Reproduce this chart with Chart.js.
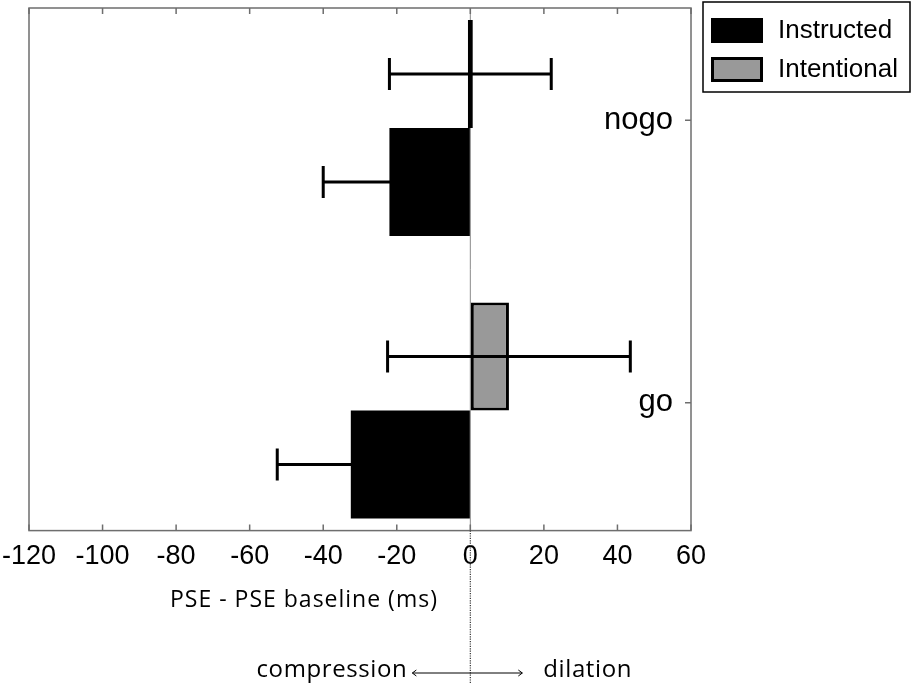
<!DOCTYPE html>
<html>
<head>
  <meta charset="UTF-8">
  <title>PSE shift: instructed vs intentional</title>
  <script src="https://cdn.jsdelivr.net/npm/chart.js"></script>
  <style>
    body { margin: 0; background: #fff; }
    canvas { display: block; }
  </style>
</head>
<body>
  <canvas id="pseChart" width="913" height="684"></canvas>
  <script>
    // conditions, top to bottom
    const categories = ['nogo', 'go'];
    // PSE - PSE baseline (ms), with error bar half widths
    const instructed = [-22, -32.5];
    const instructedErr = [18, 20];
    const intentional = [0, 10.5];
    const intentionalErr = [22, 33];
    const xTicks = [-120, -100, -80, -60, -40, -20, 0, 20, 40, 60];
    const legendOrder = ['Instructed', 'Intentional'];

    Chart.defaults.font.family = '"Liberation Sans", Arial, sans-serif';
    Chart.defaults.color = '#000';

    const toPoints = vals => vals.map((v, i) => ({ x: v, y: i + 1 }));

    // box, inward ticks, error bars, legend and the notes under the axis
    const extras = {
      id: 'extras',
      beforeDatasetsDraw(chart) {
        const { ctx, chartArea: a, scales: { x } } = chart;
        const x0 = x.getPixelForValue(0);
        ctx.save();
        ctx.strokeStyle = '#8a8a8a';
        ctx.lineWidth = 1;
        ctx.beginPath();
        ctx.moveTo(x0, a.top);
        ctx.lineTo(x0, a.bottom);
        ctx.stroke();
        ctx.restore();
      },
      afterDatasetsDraw(chart) {
        const { ctx, scales: { x } } = chart;
        ctx.save();
        ctx.strokeStyle = '#000';
        ctx.lineWidth = 3;
        chart.data.datasets.forEach((ds, i) => {
          chart.getDatasetMeta(i).data.forEach((bar, j) => {
            const v = ds.data[j].x, e = ds.errors[j];
            const lo = x.getPixelForValue(v - e);
            const hi = x.getPixelForValue(v + e);
            const y = bar.y;
            ctx.beginPath();
            ctx.moveTo(lo, y); ctx.lineTo(hi, y);
            ctx.moveTo(lo, y - 16); ctx.lineTo(lo, y + 16);
            ctx.moveTo(hi, y - 16); ctx.lineTo(hi, y + 16);
            ctx.stroke();
          });
        });
        ctx.restore();
      },
      afterDraw(chart) {
        const { ctx, chartArea: a, scales: { x, y } } = chart;
        const x0 = x.getPixelForValue(0);
        ctx.save();

        // plot box and inward ticks
        ctx.strokeStyle = '#6e6e6e';
        ctx.lineWidth = 1.5;
        ctx.strokeRect(a.left, a.top, a.right - a.left, a.bottom - a.top);
        ctx.beginPath();
        x.ticks.forEach(t => {
          const px = x.getPixelForValue(t.value);
          ctx.moveTo(px, a.bottom); ctx.lineTo(px, a.bottom - 6);
          ctx.moveTo(px, a.top); ctx.lineTo(px, a.top + 6);
        });
        y.ticks.forEach(t => {
          const py = y.getPixelForValue(t.value);
          ctx.moveTo(a.right, py); ctx.lineTo(a.right - 6, py);
        });
        ctx.stroke();

        // legend
        ctx.strokeStyle = '#000';
        ctx.lineWidth = 1.5;
        ctx.strokeRect(703, 2, 207, 90);
        ctx.font = '26px "Liberation Sans", Arial, sans-serif';
        ctx.textAlign = 'left';
        ctx.textBaseline = 'middle';
        legendOrder.forEach((name, k) => {
          const ds = chart.data.datasets.find(d => d.label === name);
          const top = 18 + k * 39;
          ctx.fillStyle = ds.backgroundColor;
          ctx.fillRect(711, top, 52, 25);
          if (ds.borderWidth) {
            ctx.strokeStyle = ds.borderColor;
            ctx.lineWidth = ds.borderWidth;
            ctx.strokeRect(711 + 1.5, top + 1.5, 49, 22);
          }
          ctx.fillStyle = '#000';
          ctx.fillText(name, 778, top + 13);
        });

        // dotted zero line under the axis
        ctx.strokeStyle = '#333';
        ctx.lineWidth = 1.2;
        ctx.setLineDash([1.2, 1.2]);
        ctx.beginPath();
        ctx.moveTo(x0, a.bottom);
        ctx.lineTo(x0, chart.height);
        ctx.stroke();
        ctx.setLineDash([]);

        // compression <-> dilation arrow
        const ay = 673;
        ctx.strokeStyle = '#000';
        ctx.lineWidth = 1;
        ctx.beginPath();
        ctx.moveTo(x0 - 58, ay); ctx.lineTo(x0 + 52, ay);
        ctx.moveTo(x0 - 54, ay - 3); ctx.lineTo(x0 - 58, ay); ctx.lineTo(x0 - 54, ay + 3);
        ctx.moveTo(x0 + 48, ay - 3); ctx.lineTo(x0 + 52, ay); ctx.lineTo(x0 + 48, ay + 3);
        ctx.stroke();

        ctx.fillStyle = '#000';
        ctx.textBaseline = 'alphabetic';
        ctx.font = '23px "Open Sans", "Noto Sans", sans-serif';
        ctx.letterSpacing = '1px';
        ctx.textAlign = 'left';
        ctx.fillText('PSE - PSE baseline (ms)', 170, 607);
        ctx.font = '24px "Open Sans", "Noto Sans", sans-serif';
        ctx.letterSpacing = '0.6px';
        ctx.textAlign = 'right';
        ctx.fillText('compression', x0 - 63, 677);
        ctx.textAlign = 'left';
        ctx.fillText('dilation', x0 + 73, 677);
        ctx.restore();
      }
    };

    const ctx = document.getElementById('pseChart').getContext('2d');
    new Chart(ctx, {
      type: 'bar',
      data: {
        datasets: [
          {
            label: 'Intentional',
            data: toPoints(intentional),
            errors: intentionalErr,
            backgroundColor: '#999999',
            borderColor: '#000',
            borderWidth: 3,
            borderSkipped: false,
            minBarLength: 5,
            inflateAmount: 0,
            barThickness: 108
          },
          {
            label: 'Instructed',
            data: toPoints(instructed),
            errors: instructedErr,
            backgroundColor: '#000',
            borderWidth: 0,
            inflateAmount: 0,
            barThickness: 108
          }
        ]
      },
      options: {
        indexAxis: 'y',
        responsive: false,
        animation: false,
        layout: { padding: { left: 29, top: 8, right: 222, bottom: 111 } },
        plugins: {
          tooltip: { enabled: false },
          legend: { display: false }
        },
        scales: {
          x: {
            type: 'linear',
            min: -120,
            max: 60,
            afterBuildTicks: s => { s.ticks = xTicks.map(v => ({ value: v })); },
            grid: { drawOnChartArea: false, drawTicks: true, tickLength: 10, color: 'transparent' },
            border: { display: false },
            ticks: { font: { size: 27 }, padding: 0, maxRotation: 0, autoSkip: false }
          },
          y: {
            type: 'linear',
            position: 'right',
            reverse: true,
            offset: false,
            min: 0.575,
            max: 2.425,
            afterBuildTicks: s => { s.ticks = categories.map((c, i) => ({ value: i + 1 - 0.028 })); },
            grid: { drawOnChartArea: false, drawTicks: true, tickLength: 11, color: 'transparent' },
            border: { display: false },
            ticks: {
              mirror: true,
              padding: -18,
              font: { size: 31 },
              autoSkip: false,
              callback: v => categories[Math.round(v) - 1]
            }
          }
        }
      },
      plugins: [extras]
    });
  </script>
</body>
</html>
